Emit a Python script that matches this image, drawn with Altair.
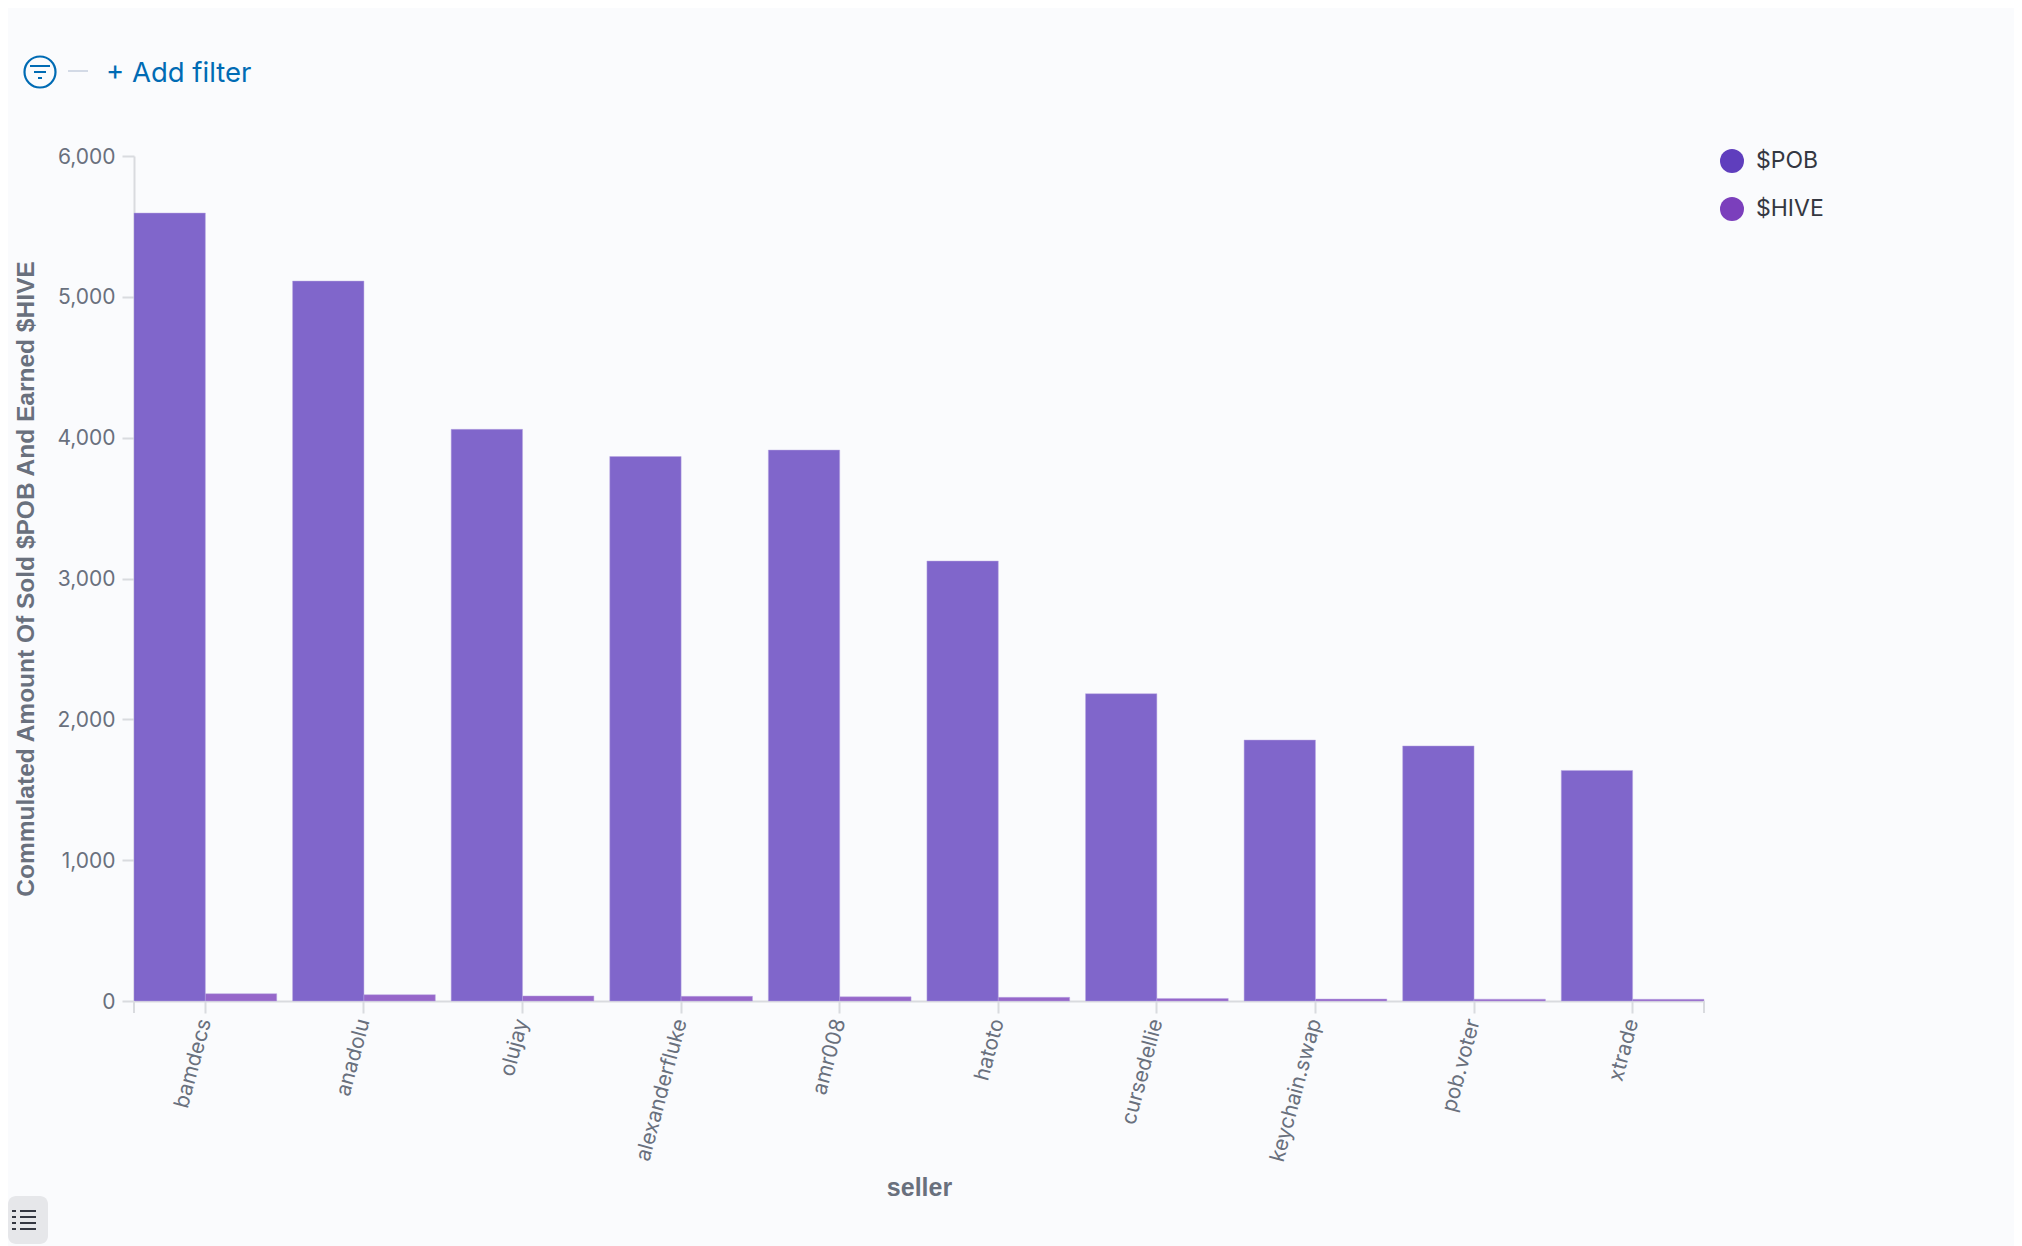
import altair as alt
import pandas as pd

sellers = ["bamdecs", "anadolu", "olujay", "alexanderfluke", "amr008", "hatoto",
           "cursedellie", "keychain.swap", "pob.voter", "xtrade"]
pob = [5595, 5112, 4059, 3866, 3912, 3124, 2182, 1853, 1811, 1637]
hive = [52, 45, 36, 33, 30, 26, 18, 14, 13, 12]
series = ["$POB", "$HIVE"]
series_colors = ["#5F3EBD", "#7B3FBC"]
x_title = "seller"
y_title = "Commulated Amount Of Sold $POB And Earned $HIVE"
y_ticks = [0, 1000, 2000, 3000, 4000, 5000, 6000]

W, H = 1570, 845
LEFT, TOP = 134, 156
BG = "#FAFBFD"
AXIS = "#D9DBDF"
LINK = "#006BB4"
INK = "#343741"

rows = [{"seller": s, "series": series[0], "value": v} for s, v in zip(sellers, pob)]
rows += [{"seller": s, "series": series[1], "value": v} for s, v in zip(sellers, hive)]
df = pd.DataFrame(rows)

bars = alt.Chart(df).mark_bar(fillOpacity=0.79, stroke="#B9A8E4", strokeWidth=0.6, strokeOpacity=0.8).encode(
    x=alt.X("seller:N", sort=sellers, title=x_title,
            scale=alt.Scale(paddingInner=0.1, paddingOuter=0),
            axis=alt.Axis(labelAngle=-75, labelAlign="right", labelBaseline="middle",
                          labelFont="Inter", labelFontSize=21, labelColor="#69707D",
                          labelPadding=6, labelOverlap=False, labelLimit=300,
                          tickColor=AXIS, tickWidth=2, tickSize=12,
                          domainColor=AXIS, domainWidth=2, grid=False,
                          titleFont="Liberation Sans", titleFontSize=25, titleFontWeight="bold",
                          titleColor="#69707D", titlePadding=12)),
    xOffset=alt.XOffset("series:N", sort=series, scale=alt.Scale(domain=series, paddingInner=0, paddingOuter=0)),
    y=alt.Y("value:Q", title=y_title, scale=alt.Scale(domain=[0, 6000], nice=False),
            axis=alt.Axis(values=y_ticks, format=",.0f", labelFont="Inter", labelFontSize=21,
                          labelColor="#69707D", labelPadding=7, labelOffset=1,
                          tickColor=AXIS, tickWidth=2, tickSize=12,
                          domainColor=AXIS, domainWidth=2, grid=False,
                          titleFont="Liberation Sans", titleFontSize=24.5, titleFontWeight="bold",
                          titleColor="#69707D", titlePadding=18)),
    color=alt.Color("series:N", sort=series,
                    scale=alt.Scale(domain=series, range=series_colors),
                    legend=alt.Legend(title=None, orient="none", legendX=1586, legendY=-7,
                                      symbolType="circle", symbolSize=576, symbolOpacity=1,
                                      symbolStrokeWidth=0, rowPadding=24, labelOffset=12,
                                      labelFont="Inter", labelFontSize=23, labelColor=INK)),
)


def rule(x1, y1, x2, y2, color, width=2):
    return alt.Chart().mark_rule(color=color, strokeWidth=width).encode(
        x=alt.value(x1 - LEFT), x2=alt.value(x2 - LEFT),
        y=alt.value(y1 - TOP), y2=alt.value(y2 - TOP))


end_ticks = [rule(134, 1001, 134, 1013, AXIS), rule(1704, 1001, 1704, 1013, AXIS)]

filter_circle = alt.Chart().mark_point(shape="circle", size=961, filled=False,
                                       stroke=LINK, strokeWidth=2.2, opacity=1).encode(
    x=alt.value(40 - LEFT), y=alt.value(72 - TOP))
filter_lines = [rule(30, 66, 50, 66, LINK), rule(34, 72, 46, 72, LINK), rule(38, 78, 42, 78, LINK)]
dash = rule(68, 71, 88, 71, "#D3DAE6")
add_filter = alt.Chart().mark_text(text="+ Add filter", font="Inter", fontSize=27.5, align="left",
                                   baseline="middle", color=LINK).encode(
    x=alt.value(106 - LEFT), y=alt.value(74 - TOP))

menu_box = alt.Chart().mark_rect(color="#E6E7EA", cornerRadius=8).encode(
    x=alt.value(8 - LEFT), x2=alt.value(48 - LEFT),
    y=alt.value(1196 - TOP), y2=alt.value(1244 - TOP))
menu_lines = []
for yy in [1211, 1217, 1223, 1229]:
    menu_lines += [rule(12, yy, 16, yy, INK), rule(20, yy, 36, yy, INK)]

chart = alt.layer(bars, *end_ticks, filter_circle, *filter_lines, dash, add_filter,
                  menu_box, *menu_lines).properties(
    width=W, height=H,
    background=BG,
    padding={"left": LEFT - 8, "top": TOP - 8, "right": 2006 - (LEFT - 8) - W, "bottom": 1238 - (TOP - 8) - H},
    autosize=alt.AutoSizeParams(type="none"),
).configure_view(stroke=None)

chart.save("out.html", embed_options={"renderer": "svg", "actions": False})
